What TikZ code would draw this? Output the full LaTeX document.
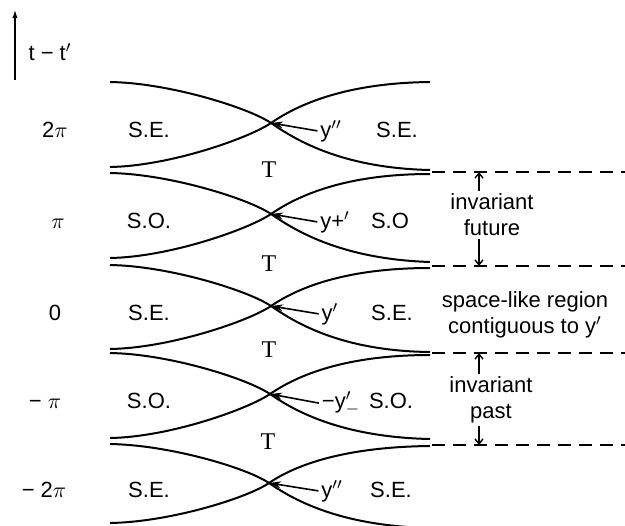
\documentclass[tikz,border=0pt]{standalone}
\usepackage{fontspec}
\setmainfont{Liberation Sans}
\newfontfamily\teefont{Liberation Serif}
\usetikzlibrary{arrows.meta}
\tikzset{
  lab/.style={anchor=base, inner sep=1pt, font=\fontsize{11}{13}\selectfont},
  note/.style={align=center, inner sep=1pt, font=\fontsize{11}{13}\selectfont},
  tee/.style={inner sep=1pt, font=\teefont\fontsize{12}{14}\selectfont},
  pointer/.style={line width=0.8pt, -{Stealth[length=6pt, width=3.5pt]}},
  flow/.style={line width=0.7pt, -{Straight Barb[length=2.5pt, width=4pt]}},
  bound/.style={line width=0.8pt, dash pattern=on 6.5pt off 4pt}
}
\begin{document}
\begin{tikzpicture}[x=0.5pt, y=-0.5pt, line width=1pt]
        \useasboundingbox (0, 0) rectangle (625, 525);
        \coordinate (axbot) at (15, 80);
        \coordinate (axtop) at (15, 8);
        \draw [line width=1.2pt, -{Latex[length=5pt, width=2.5pt]}] (axbot) -- (axtop);
        \node [lab] (axlab) at (50, 60) {t − t$'$};
        \coordinate (x1) at (271, 123);
        \coordinate (x2) at (271, 214);
        \coordinate (x3) at (271, 306);
        \coordinate (x4) at (270, 394);
        \coordinate (x5) at (269, 483);
        \draw (110, 82) .. controls (170, 83) and (249, 108) .. (x1) .. controls (293, 138) and (339, 168) .. (430, 170);
        \draw (110, 167) .. controls (170, 166) and (249, 138) .. (x1) .. controls (293, 108) and (339, 83) .. (430, 82);
        \draw (110, 173) .. controls (170, 174) and (249, 199) .. (x2) .. controls (293, 229) and (339, 259) .. (430, 262);
        \draw (110, 258) .. controls (170, 257) and (249, 229) .. (x2) .. controls (293, 199) and (339, 174) .. (430, 174);
        \draw (110, 265) .. controls (170, 266) and (249, 291) .. (x3) .. controls (293, 321) and (339, 351) .. (430, 352);
        \draw (110, 349) .. controls (170, 348) and (249, 321) .. (x3) .. controls (293, 291) and (339, 268) .. (430, 268);
        \draw (110, 353) .. controls (170, 354) and (248, 379) .. (x4) .. controls (292, 409) and (338, 437) .. (430, 439);
        \draw (110, 438) .. controls (170, 437) and (248, 409) .. (x4) .. controls (292, 379) and (338, 355) .. (430, 355);
        \draw (110, 444) .. controls (170, 445) and (247, 468) .. (x5) .. controls (291, 498) and (337, 526) .. (430, 528);
        \draw (110, 523) .. controls (170, 522) and (247, 498) .. (x5) .. controls (291, 468) and (337, 447) .. (430, 446);
        \node [lab] (v1) at (55, 137) {2$\pi$};
        \node [lab] (v2) at (58, 228) {$\pi$};
        \node [lab] (v3) at (55, 320) {0};
        \node [lab] (v4) at (45, 408) {− $\pi$};
        \node [lab] (v5) at (44, 497) {− 2$\pi$};
        \node [lab] (l1) at (149, 137) {S.E.};
        \node [lab] (l2) at (149, 228) {S.O.};
        \node [lab] (l3) at (149, 320) {S.E.};
        \node [lab] (l4) at (149, 408) {S.O.};
        \node [lab] (l5) at (149, 497) {S.E.};
        \node [tee] (t1) at (269, 170) {T};
        \node [tee] (t2) at (269, 264) {T};
        \node [tee] (t3) at (269, 350) {T};
        \node [tee] (t4) at (268, 442) {T};
        \node [lab] (p1) at (331, 137) {y$''$};
        \node [lab] (p2) at (335, 228) {y+$'$};
        \node [lab] (p3) at (330, 320) {y$'$};
        \node [lab] (p4) at (341, 408) {−y$'_{-}$};
        \node [lab] (p5) at (332, 497) {y$''$};
        \node [lab] (r1) at (397, 137) {S.E.};
        \node [lab] (r2) at (390, 228) {S.O};
        \node [lab] (r3) at (392, 320) {S.E.};
        \node [lab] (r4) at (391, 408) {S.O.};
        \node [lab] (r5) at (391, 497) {S.E.};
        \draw [pointer] (p1.west) -- (x1);
        \draw [pointer] (p2.west) -- (x2);
        \draw [pointer] (p3.west) -- (x3);
        \draw [pointer] (p4.west) -- (x4);
        \draw [pointer] (p5.west) -- (x5);
        \coordinate (d1) at (432, 172);
        \coordinate (d2) at (432, 266);
        \coordinate (d3) at (432, 353);
        \coordinate (d4) at (432, 445);
        \draw [bound] (d1) -- ++(193, 0);
        \draw [bound] (d2) -- ++(193, 0);
        \draw [bound] (d3) -- ++(193, 0);
        \draw [bound] (d4) -- ++(193, 0);
        \node [note] (fut) at (492, 215) {invariant\\future};
        \node [note] (spc) at (525, 315) {space-like region\\contiguous to y$'$};
        \node [note] (pst) at (491, 400) {invariant\\past};
        \coordinate (a1) at (479, 172);
        \coordinate (a2) at (479, 266);
        \coordinate (a3) at (479, 353);
        \coordinate (a4) at (479, 445);
        \draw [flow] (a1 |- fut.north) -- (a1);
        \draw [flow] (a2 |- fut.south) -- (a2);
        \draw [flow] (a3 |- pst.north) -- (a3);
        \draw [flow] (a4 |- pst.south) -- (a4);
\end{tikzpicture}
\end{document}
